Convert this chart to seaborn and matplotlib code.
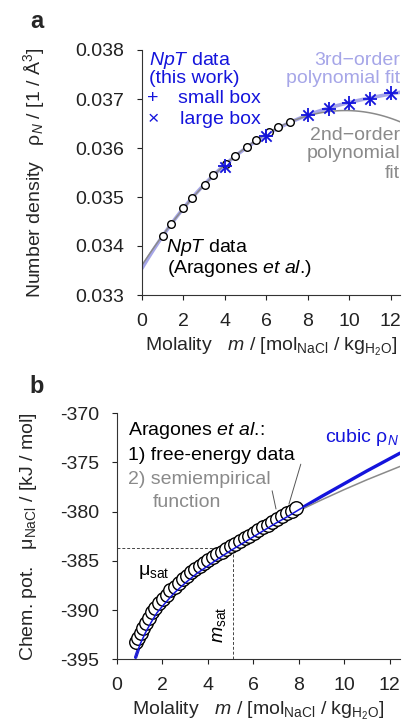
import matplotlib
matplotlib.use('Agg')
import matplotlib.pyplot as plt
import seaborn as sns

# --- panel a: number density vs molality ---
arag_m = [1.0, 1.39, 2.0, 2.42, 3.04, 3.44, 4.07, 4.47, 5.08, 5.5, 6.12, 6.54, 7.15]
arag_rho = [0.03421, 0.03444, 0.03478, 0.03498, 0.03525, 0.03545, 0.03567,
            0.03583, 0.03602, 0.03616, 0.03632, 0.03642, 0.03653]
work_m = [4, 6, 8, 9, 10, 11, 12]
small_box_rho = [0.03563, 0.03625, 0.03668, 0.03680, 0.03691, 0.03701, 0.03712]
large_box_rho = [0.03562, 0.03624, 0.03667, 0.03681, 0.03690, 0.03701, 0.03711]

# --- panel b: chemical potential vs molality ---
fe_m = [0.85, 0.94, 1.04, 1.15, 1.27, 1.40, 1.54, 1.69, 1.85, 2.01, 2.18, 2.35,
        2.53, 2.71, 2.89, 3.07, 3.26, 3.45, 3.64, 3.83, 4.02, 4.21, 4.41, 4.61,
        4.81, 5.01, 5.21, 5.41, 5.61, 5.81, 6.01, 6.21, 6.42, 6.63, 6.84, 7.05,
        7.26, 7.47, 7.68, 7.89]
fe_mu = [-393.25, -392.8, -392.3, -391.8, -391.3, -390.76, -390.23, -389.75,
         -389.3, -388.88, -388.44, -388.0, -387.62, -387.24, -386.87, -386.53,
         -386.17, -385.84, -385.54, -385.23, -384.93, -384.62, -384.33, -384.05,
         -383.77, -383.52, -383.25, -382.98, -382.71, -382.44, -382.17, -381.9,
         -381.6, -381.31, -381.01, -380.74, -380.47, -380.18, -379.89, -379.6]
cubic_m = [0.82, 1.0, 1.25, 1.5, 1.75, 2.0, 2.5, 3.0, 3.5, 4.0, 4.5, 5.0, 5.5,
           6.0, 6.5, 7.0, 7.5, 8.0, 9.0, 10.0, 11.0, 12.45]
cubic_mu = [-394.8, -393.55, -392.3, -391.25, -390.3, -389.6, -388.3, -387.25,
            -386.3, -385.5, -384.7, -383.95, -383.25, -382.55, -381.85, -381.15,
            -380.5, -379.8, -378.45, -377.15, -375.85, -374.05]
semi_m = [0.82, 1.0, 1.5, 2.0, 3.0, 4.0, 5.0, 6.0, 7.0, 7.5, 8.0, 9.0, 10.0, 11.0, 12.45]
semi_mu = [-394.8, -393.55, -391.25, -389.6, -387.25, -385.5, -383.95, -382.55,
           -381.15, -380.5, -379.9, -378.8, -377.75, -376.75, -375.4]
m_sat = 5.1
mu_sat = -383.7

blue = '#1414dc'
lavender = '#a6a6e8'
grey = '#8a8a8a'

sns.set_theme(style='ticks')
plt.rcParams['font.family'] = ['Liberation Sans', 'DejaVu Sans']
plt.rcParams['mathtext.fontset'] = 'custom'
plt.rcParams['mathtext.rm'] = 'Liberation Sans'
plt.rcParams['mathtext.it'] = 'Liberation Sans:italic'
plt.rcParams['mathtext.bf'] = 'Liberation Sans:bold'
plt.rcParams['axes.unicode_minus'] = False

fs = 14
fig = plt.figure(figsize=(4.06, 7.26), dpi=100)
ax1 = fig.add_axes([142 / 406, 1 - 295 / 726, 258 / 406, 245 / 726])
ax2 = fig.add_axes([117 / 406, 1 - 659.3 / 726, 283 / 406, 246 / 726])

for ax in (ax1, ax2):
    ax.set_xlim(0, 12.45)
    ax.tick_params(direction='out', length=3.6, width=0.8, pad=9.5,
                   labelsize=fs, colors='#222222')
    for s in ('left', 'bottom'):
        ax.spines[s].set_linewidth(0.8)
        ax.spines[s].set_color('#333333')
    sns.despine(ax=ax)
    ax.set_xticks([0, 2, 4, 6, 8, 10, 12])
    ax.set_xlabel(r'Molality   $m$ / [mol$_{\rm NaCl}$ / kg$_{\rm H_2O}$]',
                  fontsize=fs, labelpad=4)

# panel a
ax1.set_ylim(0.033, 0.038)
ax1.set_yticks([0.033, 0.034, 0.035, 0.036, 0.037, 0.038])
ax1.set_yticklabels(['%.3f' % v for v in ax1.get_yticks()])
sns.regplot(x=arag_m + work_m, y=arag_rho + small_box_rho, order=3, ci=None,
            scatter=False, truncate=False, ax=ax1,
            line_kws=dict(color=lavender, lw=2.6, zorder=1))
sns.regplot(x=arag_m, y=arag_rho, order=2, ci=None, scatter=False,
            truncate=False, ax=ax1, line_kws=dict(color=grey, lw=1.1, zorder=2))
sns.scatterplot(x=arag_m, y=arag_rho, marker='o', s=30, facecolor='white',
                edgecolor='black', linewidth=1.0, ax=ax1, zorder=3)
sns.scatterplot(x=work_m, y=small_box_rho, marker='+', s=90, color=blue,
                linewidth=1.3, ax=ax1, zorder=4)
sns.scatterplot(x=work_m, y=large_box_rho, marker='x', s=55, color=blue,
                linewidth=1.3, ax=ax1, zorder=4)
ax1.set_xlim(0, 12.45)
ax1.set_ylabel(r'Number density   ρ$_N$ / [1 / Å$^3$]', fontsize=fs)
ax1.yaxis.set_label_coords(-0.37, 0.5)

t1 = dict(transform=ax1.transAxes, fontsize=fs, va='center')
ax1.text(0.027, 0.959, r'$NpT$ data', color=blue, **t1)
ax1.text(0.027, 0.882, '(this work)', color=blue, **t1)
ax1.text(0.043, 0.800, '+', color=blue, ha='center', **t1)
ax1.text(0.140, 0.800, 'small box', color=blue, **t1)
ax1.text(0.043, 0.718, '×', color=blue, ha='center', **t1)
ax1.text(0.147, 0.718, 'large box', color=blue, **t1)
ax1.text(1.0, 0.959, '3rd−order', color=lavender, ha='right', **t1)
ax1.text(1.0, 0.882, 'polynomial fit', color=lavender, ha='right', **t1)
ax1.text(1.0, 0.649, '2nd−order', color=grey, ha='right', **t1)
ax1.text(1.0, 0.576, 'polynomial', color=grey, ha='right', **t1)
ax1.text(1.0, 0.494, 'fit', color=grey, ha='right', **t1)
ax1.text(0.093, 0.192, r'$NpT$ data', color='black', **t1)
ax1.text(0.097, 0.110, r'(Aragones $et\ al$.)', color='black', **t1)

# panel b
ax2.set_ylim(-395, -370)
ax2.set_yticks([-395, -390, -385, -380, -375, -370])
sns.lineplot(x=cubic_m, y=cubic_mu, sort=False, estimator=None, color=blue,
             lw=2.4, ax=ax2, zorder=1)
sns.lineplot(x=semi_m, y=semi_mu, sort=False, estimator=None, color=grey,
             lw=1.1, ax=ax2, zorder=2)
sns.scatterplot(x=fe_m, y=fe_mu, marker='o', s=95, facecolor='white',
                edgecolor='black', linewidth=1.0, ax=ax2, zorder=3)
sns.lineplot(x=cubic_m, y=cubic_mu, sort=False, estimator=None, color=blue,
             lw=1.1, ax=ax2, zorder=4)
ax2.plot([0, m_sat], [mu_sat, mu_sat], ls=(0, (3, 2)), color='#444444', lw=0.7, zorder=0)
ax2.plot([m_sat, m_sat], [-395, mu_sat], ls=(0, (3, 2)), color='#444444', lw=0.7, zorder=0)
ax2.annotate('', xy=(7.53, -379.5), xytext=(8.12, -374.9),
             arrowprops=dict(arrowstyle='-', color='#555555', lw=0.7))
ax2.annotate('', xy=(7.02, -380.0), xytext=(6.80, -377.6),
             arrowprops=dict(arrowstyle='-', color='#555555', lw=0.7))
ax2.set_xlim(0, 12.45)
ax2.set_ylabel(r'Chem. pot.   μ$_{\rm NaCl}$ / [kJ / mol]', fontsize=fs)
ax2.yaxis.set_label_coords(-0.275, 0.5)

t2 = dict(fontsize=fs, va='center')
ax2.text(0.47, -371.7, r'Aragones $et\ al$.:', color='black', **t2)
ax2.text(0.47, -374.24, '1) free-energy data', color='black', **t2)
ax2.text(0.47, -376.68, '2) semiempirical', color=grey, **t2)
ax2.text(1.57, -379.1, 'function', color=grey, **t2)
ax2.text(9.14, -372.45, r'cubic ρ$_N$', color=blue, **t2)
ax2.text(0.91, -386.13, r'μ$_{\rm sat}$', color='black', **t2)
ax2.text(4.52, -391.5, r'$m_{\rm sat}$', color='black', rotation=90,
         ha='center', **t2)

fig.text(37 / 406, 1 - 22 / 726, 'a', fontsize=17, fontweight='bold',
         ha='center', va='center')
fig.text(37 / 406, 1 - 386 / 726, 'b', fontsize=17, fontweight='bold',
         ha='center', va='center')

fig.savefig('out.png', dpi=100)
